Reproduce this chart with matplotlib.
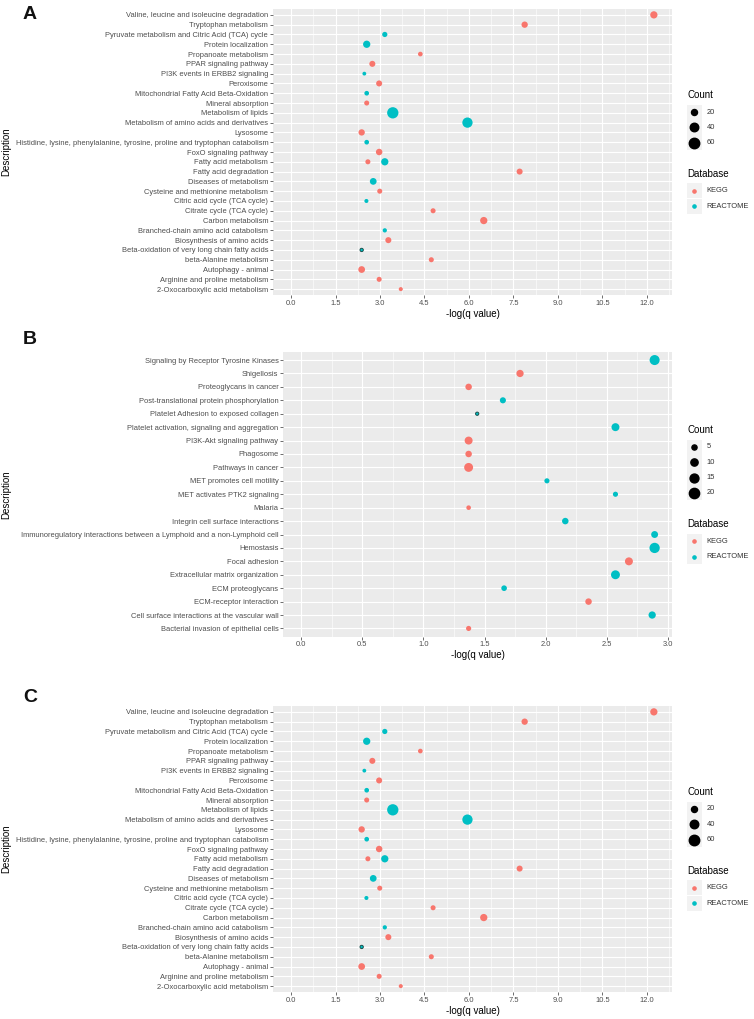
import numpy as np
import matplotlib.pyplot as plt
from matplotlib.ticker import MultipleLocator, FormatStrFormatter

plt.rcParams['font.family'] = ['Liberation Sans', 'DejaVu Sans']

W, H = 754, 1019
KEGG_COL = '#F8766D'
REACT_COL = '#00BFC4'
TXT = '#4D4D4D'

# ---------------------------------------------------------------
# Panel A (and C, which repeats it): terms top -> bottom
# ---------------------------------------------------------------
a_terms = [
    "Valine, leucine and isoleucine degradation",
    "Tryptophan metabolism",
    "Pyruvate metabolism and Citric Acid (TCA) cycle",
    "Protein localization",
    "Propanoate metabolism",
    "PPAR signaling pathway",
    "PI3K events in ERBB2 signaling",
    "Peroxisome",
    "Mitochondrial Fatty Acid Beta-Oxidation",
    "Mineral absorption",
    "Metabolism of lipids",
    "Metabolism of amino acids and derivatives",
    "Lysosome",
    "Histidine, lysine, phenylalanine, tyrosine, proline and tryptophan catabolism",
    "FoxO signaling pathway",
    "Fatty acid metabolism",
    "Fatty acid degradation",
    "Diseases of metabolism",
    "Cysteine and methionine metabolism",
    "Citric acid cycle (TCA cycle)",
    "Citrate cycle (TCA cycle)",
    "Carbon metabolism",
    "Branched-chain amino acid catabolism",
    "Biosynthesis of amino acids",
    "Beta-oxidation of very long chain fatty acids",
    "beta-Alanine metabolism",
    "Autophagy - animal",
    "Arginine and proline metabolism",
    "2-Oxocarboxylic acid metabolism",
]
# one entry per point
a_desc = a_terms[:16] + ["Fatty acid metabolism"] + a_terms[16:]
a_db = ["KEGG", "KEGG", "REACTOME", "REACTOME", "KEGG", "KEGG", "REACTOME",
        "KEGG", "REACTOME", "KEGG", "REACTOME", "REACTOME", "KEGG", "REACTOME",
        "KEGG", "KEGG", "REACTOME", "KEGG", "REACTOME", "KEGG", "REACTOME",
        "KEGG", "KEGG", "REACTOME", "KEGG", "REACTOME", "KEGG", "KEGG", "KEGG",
        "KEGG"]
a_logq = [12.24, 7.88, 3.16, 2.55, 4.36, 2.74, 2.47, 2.97, 2.55, 2.55,
          3.43, 5.95, 2.38, 2.55, 2.97, 2.59, 3.16, 7.71, 2.77, 2.99,
          2.54, 4.79, 6.50, 3.16, 3.28, 2.38, 4.73, 2.38, 2.97, 3.70]
a_count = [29, 22, 15, 29, 12, 20, 8, 20, 12, 14,
           70, 58, 22, 12, 23, 14, 29, 20, 25, 14,
           9, 14, 29, 10, 20, 6, 14, 25, 14, 9]
a_breaks = [20, 40, 60]

# ---------------------------------------------------------------
# Panel B
# ---------------------------------------------------------------
b_terms = [
    "Signaling by Receptor Tyrosine Kinases",
    "Shigellosis",
    "Proteoglycans in cancer",
    "Post-translational protein phosphorylation",
    "Platelet Adhesion to exposed collagen",
    "Platelet activation, signaling and aggregation",
    "PI3K-Akt signaling pathway",
    "Phagosome",
    "Pathways in cancer",
    "MET promotes cell motility",
    "MET activates PTK2 signaling",
    "Malaria",
    "Integrin cell surface interactions",
    "Immunoregulatory interactions between a Lymphoid and a non-Lymphoid cell",
    "Hemostasis",
    "Focal adhesion",
    "Extracellular matrix organization",
    "ECM proteoglycans",
    "ECM-receptor interaction",
    "Cell surface interactions at the vascular wall",
    "Bacterial invasion of epithelial cells",
]
b_desc = list(b_terms)
b_db = ["REACTOME", "KEGG", "KEGG", "REACTOME", "REACTOME", "REACTOME",
        "KEGG", "KEGG", "KEGG", "REACTOME", "REACTOME", "KEGG", "REACTOME",
        "REACTOME", "REACTOME", "KEGG", "REACTOME", "REACTOME", "KEGG",
        "REACTOME", "KEGG"]
b_logq = [2.89, 1.79, 1.37, 1.65, 1.44, 2.57, 1.37, 1.37, 1.37, 2.01,
          2.57, 1.37, 2.16, 2.89, 2.89, 2.68, 2.57, 1.66, 2.35, 2.87, 1.37]
b_count = [19, 10, 8, 7, 2, 12, 12, 8, 15, 5,
           5, 4, 8, 9, 20, 12, 15, 6, 8, 10, 5]
b_breaks = [5, 10, 15, 20]

TICK_FS = 5.4
TITLE_FS = 7.0

fig = plt.figure(figsize=(W / 100, H / 100), dpi=100)
over = fig.add_axes([0, 0, 1, 1], zorder=10)
over.set_xlim(0, W)
over.set_ylim(H, 0)
over.axis('off')


def diam_px(count, k):
    return k * np.sqrt(np.asarray(count, dtype=float))


def draw_panel(rect, terms, desc, db, logq, count, k, major, minor,
               breaks, letter, letter_y, leg_top):
    l, r, t, b = rect
    ax = fig.add_axes([l / W, 1 - b / H, (r - l) / W, (b - t) / H])
    n = len(terms)
    ypos = {name: n - 1 - i for i, name in enumerate(terms)}
    ys = [ypos[d] for d in desc]
    cols = [KEGG_COL if d == "KEGG" else REACT_COL for d in db]
    d = diam_px(count, k)
    s = (d * 0.72) ** 2
    # tiny points come out dark in the original
    edges = ['#1d4f4c' if v < 3.5 else 'none' for v in d]
    ax.scatter(logq, ys, s=s, c=cols, edgecolors=edges, linewidths=0.7,
               zorder=3)

    ax.set_facecolor('#EBEBEB')
    for sp in ax.spines.values():
        sp.set_visible(False)
    hi = max(logq)
    pad = 0.05 * hi
    ax.set_xlim(-pad, hi + pad)
    ax.set_ylim(-0.6, n - 1 + 0.6)
    ax.xaxis.set_major_locator(MultipleLocator(major))
    ax.xaxis.set_minor_locator(MultipleLocator(minor))
    ax.xaxis.set_major_formatter(FormatStrFormatter('%.1f'))
    ax.set_yticks(range(n))
    ax.set_yticklabels(terms[::-1])
    ax.tick_params(axis='both', which='major', labelsize=TICK_FS,
                   colors='#333333', labelcolor=TXT, length=2, width=0.5,
                   pad=1.5)
    ax.tick_params(axis='x', which='minor', length=0)
    ax.grid(True, which='major', color='white', linewidth=0.8)
    ax.grid(True, which='minor', axis='x', color='white', linewidth=0.4)
    ax.set_axisbelow(True)
    ax.set_xlabel('-log(q value)', fontsize=TITLE_FS, color='black',
                  labelpad=1.5)

    # letter and y title
    over.text(30, letter_y, letter, fontsize=14, fontweight='bold',
              ha='center', va='center', color='#111111')
    over.text(6, (t + b) / 2, 'Description', rotation=90, fontsize=TITLE_FS,
              ha='center', va='center', color='black')

    # legends
    kx, tx = 694.3, 706.5
    over.text(687, leg_top, 'Count', fontsize=TITLE_FS, va='center',
              ha='left')
    y = leg_top + 17
    for bk in breaks:
        over.add_patch(plt.Rectangle((687, y - 7.5), 15, 15,
                                     color='#F2F2F2', lw=0, zorder=1))
        dd = diam_px(bk, k)
        over.scatter([kx], [y], s=(dd * 0.72) ** 2, c='black', zorder=3)
        over.text(tx, y, str(bk), fontsize=TICK_FS, va='center', ha='left',
                  color='#333333')
        y += 15.3
    y += 16
    over.text(687, y, 'Database', fontsize=TITLE_FS, va='center', ha='left')
    y += 17
    for name, col in [("KEGG", KEGG_COL), ("REACTOME", REACT_COL)]:
        over.add_patch(plt.Rectangle((687, y - 7.5), 15, 15,
                                     color='#F2F2F2', lw=0, zorder=1))
        over.scatter([kx], [y], s=(3.2 * 0.72) ** 2, c=col, zorder=3)
        over.text(tx, y, name, fontsize=TICK_FS, va='center', ha='left',
                  color='#333333')
        y += 15.3
    return ax


draw_panel((273, 672, 9, 295), a_terms, a_desc, a_db, a_logq, a_count,
           1.35, 1.5, 0.75, a_breaks, 'A', 14, 95)
draw_panel((283.3, 672.3, 352, 636.5), b_terms, b_desc, b_db, b_logq,
           b_count, 2.3, 0.5, 0.25, b_breaks, 'B', 340, 430)
draw_panel((273, 672, 706, 992), a_terms, a_desc, a_db, a_logq, a_count,
           1.35, 1.5, 0.75, a_breaks, 'C', 698, 792)

fig.savefig('out.png', dpi=100)
